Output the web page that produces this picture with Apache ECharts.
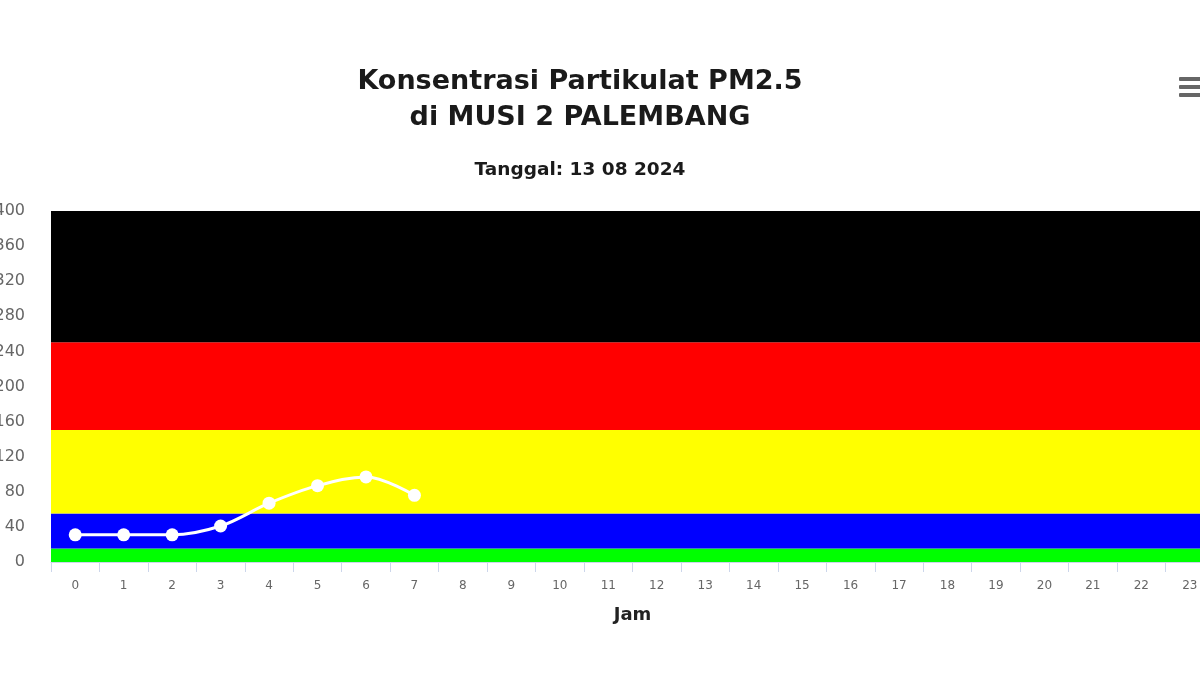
<!DOCTYPE html>
<html>
<head>
<meta charset="utf-8">
<script src="https://cdn.jsdelivr.net/npm/echarts@6/dist/echarts.min.js"></script>
<style>
  html, body { margin: 0; padding: 0; background: #fff; overflow: hidden; }
  #chart { position: absolute; left: -20px; top: 0; width: 1250px; height: 675px; }
</style>
</head>
<body>
<div id="chart"></div>
<script>
// jam 0..23
var hours = ['0','1','2','3','4','5','6','7','8','9','10','11','12','13','14','15','16','17','18','19','20','21','22','23'];
// nilai PM2.5 (ug/m3) yang terbaca dari grafik
var pm25 = [31, 31, 31, 41, 67, 87, 97, 76];
// batas kategori ISPU
var bandFrom = [0, 15.5, 55.4, 150.4, 250.4];
var bandTo = [15.5, 55.4, 150.4, 250.4, 400];
var bandColors = ['#00ff00', '#0000ff', '#ffff00', '#ff0000', '#000000'];

var chart = echarts.init(document.getElementById('chart'));

var bands = [];
for (var i = 0; i < bandFrom.length; i++) {
    bands.push([
        { yAxis: bandFrom[i], itemStyle: { color: bandColors[i], opacity: 1 } },
        { yAxis: bandTo[i] }
    ]);
}

var option = {
    animation: false,
    backgroundColor: '#fff',
    textStyle: { fontFamily: 'DejaVu Sans' },
    title: [
        {
            text: 'Konsentrasi Partikulat PM2.5\ndi MUSI 2 PALEMBANG',
            left: 595,
            top: 59,
            textAlign: 'center',
            textStyle: { fontSize: 27, fontWeight: 'bold', color: '#1a1a1a', lineHeight: 36, fontFamily: 'DejaVu Sans' }
        },
        {
            text: 'Tanggal: 13 08 2024',
            left: 595,
            top: 156,
            textAlign: 'center',
            textStyle: { fontSize: 18.5, fontWeight: 'bold', color: '#1a1a1a', fontFamily: 'DejaVu Sans' }
        }
    ],
    graphic: [
        { type: 'rect', shape: { x: 1199, y: 77, width: 22, height: 4, r: 1 }, style: { fill: '#666' } },
        { type: 'rect', shape: { x: 1199, y: 85, width: 22, height: 4, r: 1 }, style: { fill: '#666' } },
        { type: 'rect', shape: { x: 1199, y: 93, width: 22, height: 4, r: 1 }, style: { fill: '#666' } }
    ],
    grid: { left: 71, right: 16, top: 211, bottom: 113, containLabel: false },
    xAxis: {
        type: 'category',
        data: hours,
        boundaryGap: true,
        name: 'Jam',
        nameLocation: 'middle',
        nameGap: 44,
        nameTextStyle: { fontSize: 18, fontWeight: 'bold', color: '#222', fontFamily: 'DejaVu Sans' },
        axisLine: { lineStyle: { color: '#ccd6eb', width: 1 } },
        axisTick: { show: true, length: 10, lineStyle: { color: '#ccd6eb' } },
        axisLabel: { fontSize: 12, color: '#666', margin: 18, fontFamily: 'DejaVu Sans' },
        splitLine: { show: false }
    },
    yAxis: {
        type: 'value',
        min: 0,
        max: 400,
        interval: 40,
        axisLine: { show: false },
        axisTick: { show: false },
        axisLabel: { fontSize: 16, color: '#666', margin: 26, fontFamily: 'DejaVu Sans' },
        splitLine: { show: false }
    },
    series: [
        {
            name: 'PM2.5',
            type: 'line',
            data: pm25,
            smooth: 0.35,
            symbol: 'circle',
            symbolSize: 13,
            lineStyle: { color: '#fff', width: 3 },
            itemStyle: { color: '#fff' },
            z: 5,
            markArea: {
                silent: true,
                data: bands
            }
        }
    ]
};

chart.setOption(option);
window.onresize = chart.resize;
</script>
</body>
</html>
